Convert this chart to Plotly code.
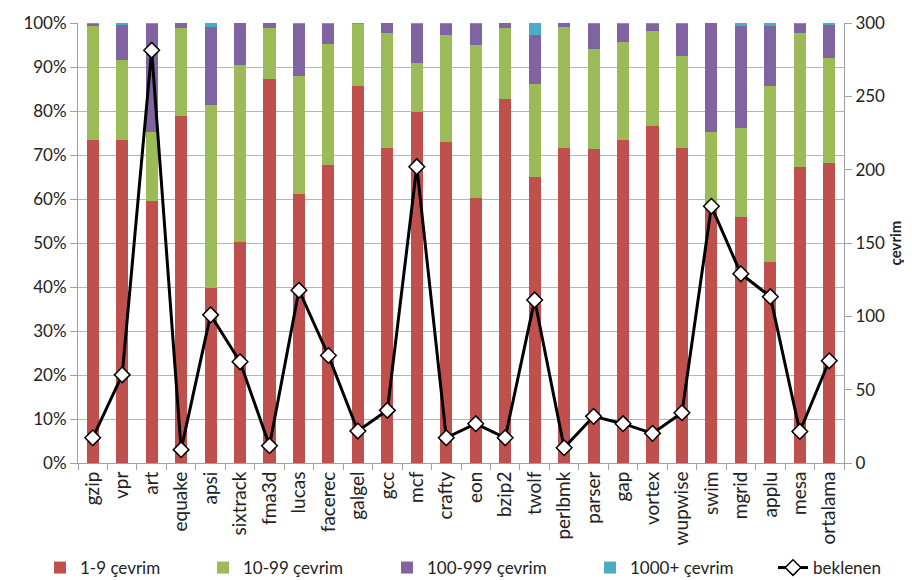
import plotly.graph_objects as go

categories = ["gzip", "vpr", "art", "equake", "apsi", "sixtrack", "fma3d", "lucas", "facerec",
              "galgel", "gcc", "mcf", "crafty", "eon", "bzip2", "twolf", "perlbmk", "parser",
              "gap", "vortex", "wupwise", "swim", "mgrid", "applu", "mesa", "ortalama"]

c1_9 = [73.5, 73.5, 59.6, 78.8, 39.8, 50.2, 87.2, 61.2, 67.8, 85.7, 71.6, 79.8, 73.0,
        60.3, 82.7, 64.9, 71.6, 71.3, 73.5, 76.6, 71.6, 58.5, 55.8, 45.7, 67.2, 68.1]
c10_99 = [25.9, 18.0, 15.7, 20.1, 41.6, 40.2, 11.7, 26.7, 27.4, 14.1, 26.1, 11.0, 24.2,
          34.6, 16.2, 21.3, 27.4, 22.7, 22.2, 21.6, 20.9, 16.8, 20.3, 40.0, 30.6, 23.9]
c100_999 = [0.5, 8.0, 24.5, 1.1, 17.8, 9.6, 1.1, 11.9, 4.6, 0.0, 2.3, 9.0, 2.6,
            4.9, 1.1, 11.1, 1.0, 5.8, 4.1, 1.7, 7.3, 24.7, 23.3, 13.7, 2.1, 7.7]
c1000 = [0.1, 0.5, 0.2, 0.0, 0.8, 0.0, 0.0, 0.2, 0.2, 0.2, 0.0, 0.2, 0.2,
         0.2, 0.0, 2.7, 0.0, 0.2, 0.2, 0.1, 0.2, 0.0, 0.6, 0.6, 0.1, 0.3]
beklenen = [17.2, 60.1, 281.4, 9.1, 101, 69, 11.8, 117.8, 73.3, 21.8, 35.9, 202, 17.2,
            26.8, 17.2, 111.2, 10.4, 31.8, 26.8, 20.2, 34.2, 175, 129, 113.4, 21.5, 69.7]

series = [("1-9 çevrim", c1_9, "#C0504D"),
          ("10-99 çevrim", c10_99, "#9BBB59"),
          ("100-999 çevrim", c100_999, "#8064A2"),
          ("1000+ çevrim", c1000, "#4BACC6")]

# legend text start positions (px) in the reference
legend_text_px = [80, 243, 427, 630, 813]
legend_names = ["legend", "legend2", "legend3", "legend4", "legend5"]

L, R, T, B, W, H = 70, 76, 15, 125, 912, 580
PW, PH = W - L - R, H - T - B

FONT = "Lato, 'Open Sans', sans-serif"
FS = 17
fig = go.Figure()
for i, (name, vals, col) in enumerate(series):
    fig.add_trace(go.Bar(x=categories, y=vals, name=name, legend=legend_names[i],
                         showlegend=True, marker=dict(color=col, line=dict(width=0))))

fig.add_trace(go.Scatter(x=categories, y=beklenen, name="beklenen", yaxis="y2",
                         legend=legend_names[4], showlegend=True, mode="lines+markers",
                         line=dict(color="black", width=3),
                         marker=dict(symbol="diamond", size=12, color="white",
                                     line=dict(color="black", width=1.5))))

leg = {}
for i, ln in enumerate(legend_names):
    px = legend_text_px[i] - 48
    leg[ln] = dict(orientation="h", xref="paper", yref="paper",
                   x=(px - L) / PW, xanchor="left",
                   y=(H - B - 560) / PH, yanchor="middle",
                   font=dict(size=FS), bgcolor="rgba(0,0,0,0)")

fig.update_layout(
    width=W, height=H, showlegend=True,
    barmode="stack", bargap=0.59,
    plot_bgcolor="white", paper_bgcolor="white",
    margin=dict(l=L, r=R, t=T, b=B, autoexpand=False),
    font=dict(family=FONT, size=FS, color="#222"),
    xaxis=dict(type="category", range=[-0.5, 25.5], tickangle=-90, showline=True,
               linecolor="#A0A0A0", ticks="outside", tickson="boundaries", ticklen=6,
               tickcolor="#A0A0A0", tickfont=dict(size=19), showgrid=False, automargin=False),
    yaxis=dict(range=[0, 100], dtick=10, ticksuffix="%", showline=True, linecolor="#A0A0A0",
               ticks="outside", ticklen=7, tickcolor="#A0A0A0", automargin=False,
               gridcolor="#B5B5B5", gridwidth=1, zeroline=False, tickfont=dict(size=FS)),
    yaxis2=dict(range=[0, 300], dtick=50, overlaying="y", side="right", showgrid=False,
                showline=True, linecolor="#A0A0A0", ticks="outside", ticklen=7,
                tickcolor="#A0A0A0", zeroline=False, tickfont=dict(size=FS), automargin=False,
                title=dict(text="<b>çevrim</b>", font=dict(size=15), standoff=6)),
    **leg,
)

fig.write_html("out.html")
